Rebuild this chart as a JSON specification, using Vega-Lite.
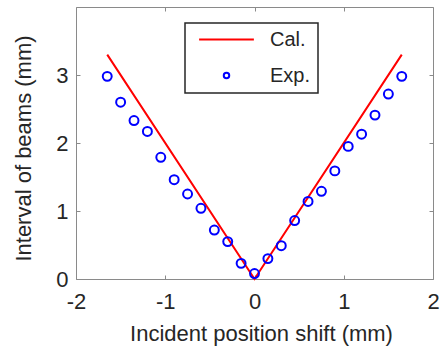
{
  "$schema": "https://vega.github.io/schema/vega-lite/v6.json",
  "width": 357,
  "height": 272,
  "autosize": "none",
  "padding": {"left": 76, "top": 7, "right": 9, "bottom": 68},
  "background": "white",
  "config": {
    "view": {"stroke": "#8a8a8a", "strokeWidth": 1},
    "axis": {
      "grid": false,
      "domain": false,
      "tickColor": "#8a8a8a",
      "tickSize": -4,
      "tickWidth": 1,
      "labelFont": "Liberation Sans",
      "labelFontSize": 22,
      "labelColor": "#262626",
      "labelFlush": false,
      "labelOverlap": false,
      "titleFont": "Liberation Sans",
      "titleFontSize": 22,
      "titleFontWeight": "normal",
      "titleColor": "#262626"
    }
  },
  "datasets": {
    "cal": [
      {"x": -1.65, "y": 3.3, "series": "Cal."},
      {"x": 0, "y": 0, "series": "Cal."},
      {"x": 1.65, "y": 3.3, "series": "Cal."}
    ],
    "exp": [
      {"x": -1.65, "y": 2.98, "series": "Exp."},
      {"x": -1.5, "y": 2.6, "series": "Exp."},
      {"x": -1.35, "y": 2.33, "series": "Exp."},
      {"x": -1.2, "y": 2.17, "series": "Exp."},
      {"x": -1.05, "y": 1.79, "series": "Exp."},
      {"x": -0.9, "y": 1.46, "series": "Exp."},
      {"x": -0.75, "y": 1.25, "series": "Exp."},
      {"x": -0.6, "y": 1.04, "series": "Exp."},
      {"x": -0.45, "y": 0.72, "series": "Exp."},
      {"x": -0.3, "y": 0.55, "series": "Exp."},
      {"x": -0.15, "y": 0.23, "series": "Exp."},
      {"x": 0, "y": 0.08, "series": "Exp."},
      {"x": 0.15, "y": 0.3, "series": "Exp."},
      {"x": 0.3, "y": 0.49, "series": "Exp."},
      {"x": 0.45, "y": 0.86, "series": "Exp."},
      {"x": 0.6, "y": 1.14, "series": "Exp."},
      {"x": 0.75, "y": 1.29, "series": "Exp."},
      {"x": 0.9, "y": 1.59, "series": "Exp."},
      {"x": 1.05, "y": 1.95, "series": "Exp."},
      {"x": 1.2, "y": 2.13, "series": "Exp."},
      {"x": 1.35, "y": 2.41, "series": "Exp."},
      {"x": 1.5, "y": 2.72, "series": "Exp."},
      {"x": 1.65, "y": 2.98, "series": "Exp."}
    ]
  },
  "layer": [
    {
      "data": {"name": "cal"},
      "mark": {"type": "line", "strokeWidth": 2},
      "encoding": {
        "x": {
          "field": "x", "type": "quantitative",
          "scale": {"domain": [-2, 2], "nice": false, "zero": false},
          "axis": {"orient": "bottom", "values": [-2, -1, 0, 1, 2], "labelExpr": "'' + datum.value", "labelPadding": 16, "title": "Incident position shift (mm)", "titlePadding": 11, "titleX": 185}
        },
        "y": {
          "field": "y", "type": "quantitative",
          "scale": {"domain": [0, 4], "nice": false},
          "axis": {"orient": "left", "values": [0, 1, 2, 3], "labelExpr": "'' + datum.value", "labelPadding": 12, "title": "Interval of beams (mm)", "titlePadding": 20, "titleY": 141}
        },
        "color": {
          "field": "series", "type": "nominal",
          "scale": {"domain": ["Cal.", "Exp."], "range": ["#ff0000", "#0000ff"]},
          "legend": {
            "orient": "none",
            "legendX": 109,
            "legendY": 16,
            "title": null,
            "symbolSize": 3000,
            "symbolStrokeWidth": 2,
            "clipHeight": 19,
            "rowPadding": 15,
            "padding": 7,
            "symbolOffset": 6,
            "labelOffset": 15,
            "labelFont": "Liberation Sans",
            "labelFontSize": 20,
            "labelColor": "#262626",
            "strokeColor": "#262626",
            "fillColor": "white",
            "encode": {
              "legend": {"update": {"strokeWidth": {"value": 1.5}}},
              "symbols": {
                "update": {
                  "shape": {"signal": "datum.value === 'Cal.' ? 'stroke' : 'M0.1,0A0.1,0.1 0 1,1 -0.1,0A0.1,0.1 0 1,1 0.1,0Z'"},
                  "fill": {"value": "transparent"},
                  "strokeWidth": {"value": 2},
                  "opacity": {"value": 1}
                }
              }
            }
          }
        }
      }
    },
    {
      "data": {"name": "exp"},
      "mark": {"type": "point", "shape": "circle", "filled": false, "size": 80, "strokeWidth": 2, "opacity": 1},
      "encoding": {
        "x": {
          "field": "x", "type": "quantitative",
          "axis": {"orient": "top", "values": [-2, -1, 0, 1, 2], "labels": false, "title": null}
        },
        "y": {
          "field": "y", "type": "quantitative",
          "axis": {"orient": "right", "values": [0, 1, 2, 3], "labels": false, "title": null}
        },
        "color": {"field": "series", "type": "nominal"}
      }
    }
  ],
  "resolve": {"axis": {"x": "independent", "y": "independent"}}
}
